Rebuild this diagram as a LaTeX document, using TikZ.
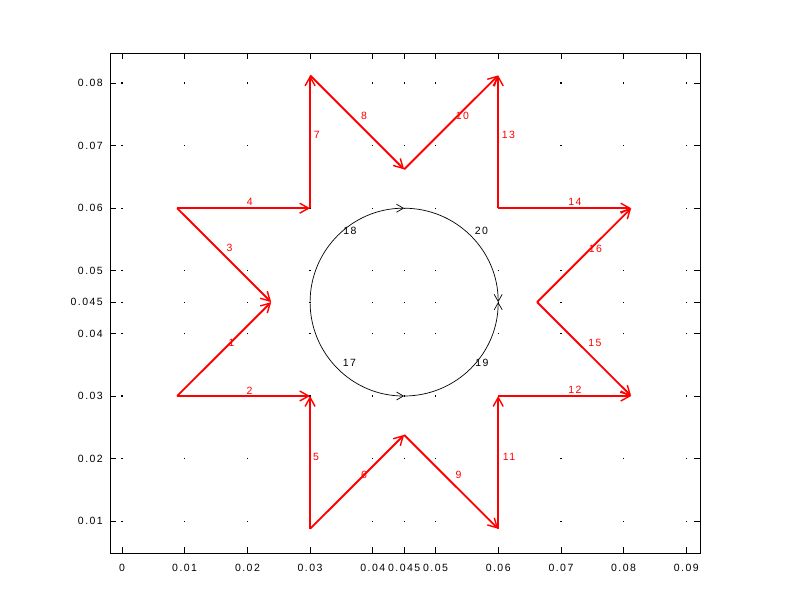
\documentclass[tikz,border=0pt]{standalone}
\usepackage{fontspec}
\newfontfamily\plotfont[LetterSpace=14]{Liberation Sans}
\usetikzlibrary{arrows.meta}
\tikzset{
  frame/.style={draw=black, line width=0.9pt},
  tickmark/.style={draw=black, line width=0.9pt},
  griddot/.style={fill=black},
  vec/.style={draw=red, line width=1.9pt, -{Straight Barb[length=9pt,width=10pt,line width=1.4pt]}},
  arcvec/.style={draw=black, line width=0.7pt, -{Straight Barb[length=7pt,width=8pt,line width=0.7pt]}},
  ticklab/.style={font=\plotfont\fontsize{10.5}{12}\selectfont, text=black, inner sep=0pt},
  vlab/.style={font=\plotfont\fontsize{10.5}{12}\selectfont, text=red, inner sep=0pt},
  clab/.style={font=\plotfont\fontsize{10.5}{12}\selectfont, text=black, inner sep=0pt}
}
\begin{document}
\begin{tikzpicture}[x=1pt,y=1pt]
\useasboundingbox (0,0) rectangle (800,600);
\fill[white] (0,0) rectangle (800,600);
% frame
\coordinate (fbl) at (110,47);
\coordinate (ftr) at (700,547);
\draw[frame] (fbl) rectangle (ftr);
\begin{scope}[shift={(122pt,16.2pt)},x=6270pt,y=6260pt]
  % grid dots and ticks
  \foreach \gx [count=\i] in {0,0.01,0.02,0.03,0.04,0.045,0.05,0.06,0.07,0.08,0.09}{
    \foreach \gy in {0.01,0.02,0.03,0.04,0.045,0.05,0.06,0.07,0.08}{
      \fill[griddot] (\gx,\gy) ++(-0.6pt,-0.6pt) rectangle ++(1.2pt,1.2pt);
    }
    \draw[tickmark] (\gx,0.00492) -- ++(0,6pt);
    \draw[tickmark] (\gx,0.0848) -- ++(0,-6pt);
    \node[ticklab] (xl\i) at ([yshift=-15pt]\gx,0.00492) {\gx};
  }
  \foreach \gy [count=\j] in {0.01,0.02,0.03,0.04,0.045,0.05,0.06,0.07,0.08}{
    \draw[tickmark] (-0.00191,\gy) -- ++(6pt,0);
    \draw[tickmark] (0.09219,\gy) -- ++(-6pt,0);
    \node[ticklab, anchor=east] (yl\j) at ([xshift=-7pt]-0.00191,\gy) {\gy};
  }
  % star points
  \coordinate (c1) at (0.03,0.03);
  \coordinate (c2) at (0.03,0.06);
  \coordinate (c3) at (0.06,0.06);
  \coordinate (c4) at (0.06,0.03);
  \coordinate (oL1) at (0.008787,0.03);
  \coordinate (oL2) at (0.008787,0.06);
  \coordinate (oT1) at (0.03,0.081213);
  \coordinate (oT2) at (0.06,0.081213);
  \coordinate (oR1) at (0.081213,0.06);
  \coordinate (oR2) at (0.081213,0.03);
  \coordinate (oB1) at (0.03,0.008787);
  \coordinate (oB2) at (0.06,0.008787);
  \coordinate (iL) at (0.023787,0.045);
  \coordinate (iT) at (0.045,0.066213);
  \coordinate (iR) at (0.066213,0.045);
  \coordinate (iB) at (0.045,0.023787);
  % circle points
  \coordinate (cl) at (0.03,0.045);
  \coordinate (cb) at (0.045,0.03);
  \coordinate (ct) at (0.045,0.06);
  \coordinate (cr) at (0.06,0.045);
  % circle arcs
  \draw[arcvec] (cl) arc[start angle=180,end angle=270,radius=0.015];
  \draw[arcvec] (cl) arc[start angle=180,end angle=90,radius=0.015];
  \draw[arcvec] (cb) arc[start angle=270,end angle=360,radius=0.015];
  \draw[arcvec] (ct) arc[start angle=90,end angle=0,radius=0.015];
  % vectors
  \draw[vec] (oL1) -- (iL);
  \draw[vec] (oL1) -- (c1);
  \draw[vec] (oL2) -- (iL);
  \draw[vec] (oL2) -- (c2);
  \draw[vec] (oB1) -- (c1);
  \draw[vec] (oB1) -- (iB);
  \draw[vec] (c2) -- (oT1);
  \draw[vec] (oT1) -- (iT);
  \draw[vec] (iB) -- (oB2);
  \draw[vec] (iT) -- (oT2);
  \draw[vec] (oB2) -- (c4);
  \draw[vec] (c4) -- (oR2);
  \draw[vec] (c3) -- (oT2);
  \draw[vec] (c3) -- (oR1);
  \draw[vec] (iR) -- (oR2);
  \draw[vec] (iR) -- (oR1);
\end{scope}
% vector labels
\node[vlab] (l1) at (231.5,257.5) {1};
\node[vlab] (l2) at (249.5,209.5) {2};
\node[vlab] (l3) at (229.5,352) {3};
\node[vlab] (l4) at (249.7,398) {4};
\node[vlab] (l5) at (316,143) {5};
\node[vlab] (l6) at (364,125) {6};
\node[vlab] (l7) at (316.7,465.3) {7};
\node[vlab] (l8) at (364,484) {8};
\node[vlab] (l9) at (458.5,125) {9};
\node[vlab] (l10) at (462.5,484) {10};
\node[vlab] (l11) at (509,143.5) {11};
\node[vlab] (l12) at (575,210) {12};
\node[vlab] (l13) at (508.5,465) {13};
\node[vlab] (l14) at (575,398.5) {14};
\node[vlab] (l15) at (595,257.5) {15};
\node[vlab] (l16) at (595.5,351.5) {16};
% circle labels
\node[clab] (l17) at (349.5,237) {17};
\node[clab] (l18) at (350,369) {18};
\node[clab] (l19) at (482,237) {19};
\node[clab] (l20) at (481.5,369) {20};
\end{tikzpicture}
\end{document}
